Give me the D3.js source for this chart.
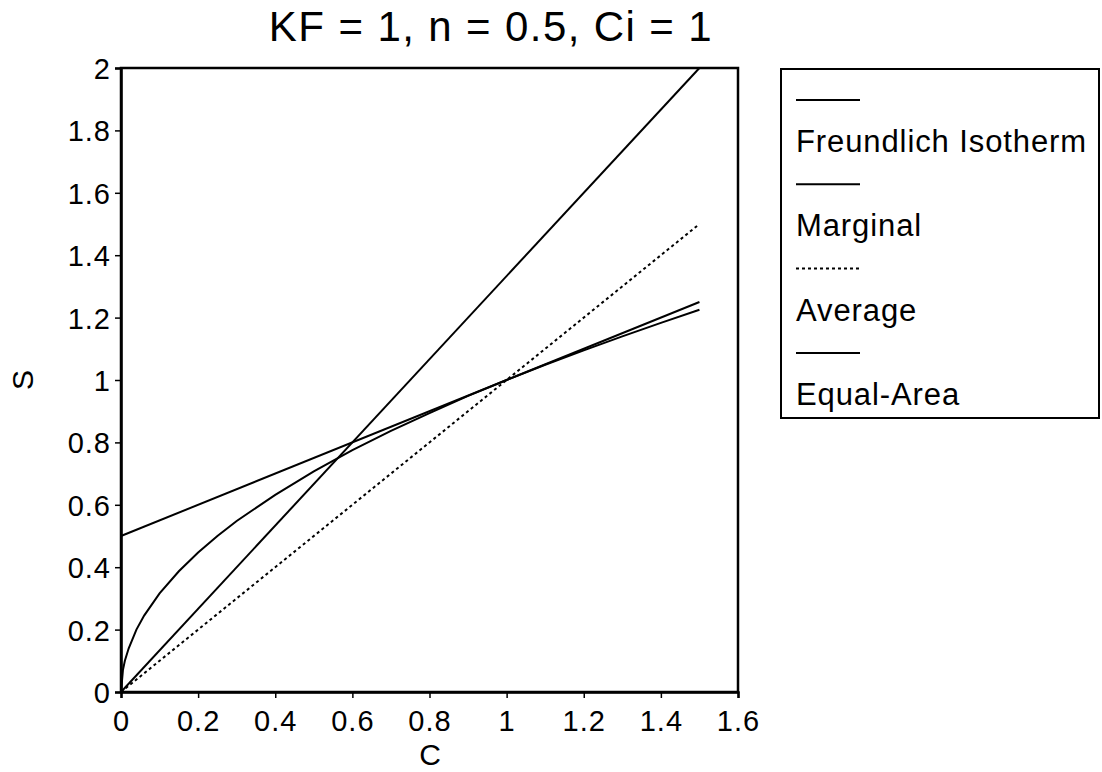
<!DOCTYPE html>
<html>
<head>
<meta charset="utf-8">
<script src="https://cdn.jsdelivr.net/npm/d3@7"></script>
<style>
  html, body { margin: 0; padding: 0; background: #fff; }
  svg { display: block; }
  text { font-family: "Liberation Sans", Arial, sans-serif; fill: #000; }
</style>
</head>
<body>
<svg id="chart" width="1102" height="772"></svg>
<script>
// ---- data ----
const freundlichC = [0, 0.005, 0.01, 0.02, 0.04, 0.06, 0.1, 0.15, 0.2, 0.25, 0.3, 0.4, 0.5, 0.6, 0.7, 0.8, 0.9, 1.0, 1.1, 1.2, 1.3, 1.4, 1.5];
const freundlichS = [0, 0.07, 0.1, 0.14, 0.2, 0.245, 0.316, 0.387, 0.447, 0.5, 0.548, 0.632, 0.707, 0.775, 0.837, 0.894, 0.949, 1.0, 1.049, 1.095, 1.14, 1.183, 1.225];
const marginalC = [0, 1.5];
const marginalS = [0.5, 1.25];
const averageC = [0, 1.5];
const averageS = [0, 1.5];
const equalAreaC = [0, 1.5];
const equalAreaS = [0, 2.0];
const xTicks = [0, 0.2, 0.4, 0.6, 0.8, 1, 1.2, 1.4, 1.6];
const yTicks = [0, 0.2, 0.4, 0.6, 0.8, 1, 1.2, 1.4, 1.6, 1.8, 2];
const legendLabels = ["Freundlich Isotherm", "Marginal", "Average", "Equal-Area"];
const titleText = "KF = 1, n = 0.5, Ci = 1";

const svg = d3.select("#chart");
const x = d3.scaleLinear().domain([0, 1.6]).range([121, 738]);
const y = d3.scaleLinear().domain([0, 2]).range([692, 68]);
const fmt = d => String(d);

// title
svg.append("text").attr("x", 491).attr("y", 41).attr("text-anchor", "middle")
  .style("font-size", "42px").style("letter-spacing", "1.4px").text(titleText);

// plot frame
svg.append("rect").attr("x", x(0)).attr("y", y(2)).attr("width", x(1.6) - x(0)).attr("height", y(0) - y(2))
  .attr("fill", "none").attr("stroke", "#000").attr("stroke-width", 2.5);

// axes
const xAxis = svg.append("g").attr("transform", `translate(0,${y(0)})`)
  .call(d3.axisBottom(x).tickValues(xTicks).tickFormat(fmt).tickSize(6).tickPadding(4));
const yAxis = svg.append("g").attr("transform", `translate(${x(0)},0)`)
  .call(d3.axisLeft(y).tickValues(yTicks).tickFormat(fmt).tickSize(6).tickPadding(4));
[xAxis, yAxis].forEach(g => {
  g.select(".domain").attr("stroke", "#000").attr("stroke-width", 2.5);
  g.selectAll(".tick line").attr("stroke", "#000").attr("stroke-width", 1.5);
  g.selectAll(".tick text").style("font-size", "29px").style("letter-spacing", "1px")
    .style("font-family", '"Liberation Sans", Arial, sans-serif').attr("fill", "#000");
});
xAxis.selectAll(".tick text").attr("dy", "1em");
yAxis.selectAll(".tick text").attr("dy", "0.36em");

// axis labels
svg.append("text").attr("x", 430).attr("y", 765).attr("text-anchor", "middle").style("font-size", "30px").text("C");
svg.append("text").attr("transform", "translate(33,380) rotate(-90)").attr("text-anchor", "middle").style("font-size", "30px").text("S");

const line = d3.line().x(d => x(d[0])).y(d => y(d[1]));
const zip = (a, b) => a.map((v, i) => [v, b[i]]);

const series = [
  { pts: zip(freundlichC, freundlichS), dash: null },
  { pts: zip(marginalC, marginalS), dash: null },
  { pts: zip(averageC, averageS), dash: "3,3" },
  { pts: zip(equalAreaC, equalAreaS), dash: null }
];
series.forEach(s => {
  svg.append("path").datum(s.pts).attr("d", line)
    .attr("fill", "none").attr("stroke", "#000").attr("stroke-width", 2)
    .attr("stroke-dasharray", s.dash);
});

// legend
const lg = svg.append("g");
lg.append("rect").attr("x", 781).attr("y", 69).attr("width", 318).attr("height", 349)
  .attr("fill", "none").attr("stroke", "#000").attr("stroke-width", 2);
legendLabels.forEach((lab, i) => {
  const ly = 100 + i * 84.3;
  lg.append("line").attr("x1", 796).attr("x2", 860).attr("y1", ly).attr("y2", ly)
    .attr("stroke", "#000").attr("stroke-width", 2).attr("stroke-dasharray", series[i].dash);
  lg.append("text").attr("x", 796).attr("y", ly + 52).style("font-size", "31px").style("letter-spacing", "0.9px").text(lab);
});
</script>
</body>
</html>
